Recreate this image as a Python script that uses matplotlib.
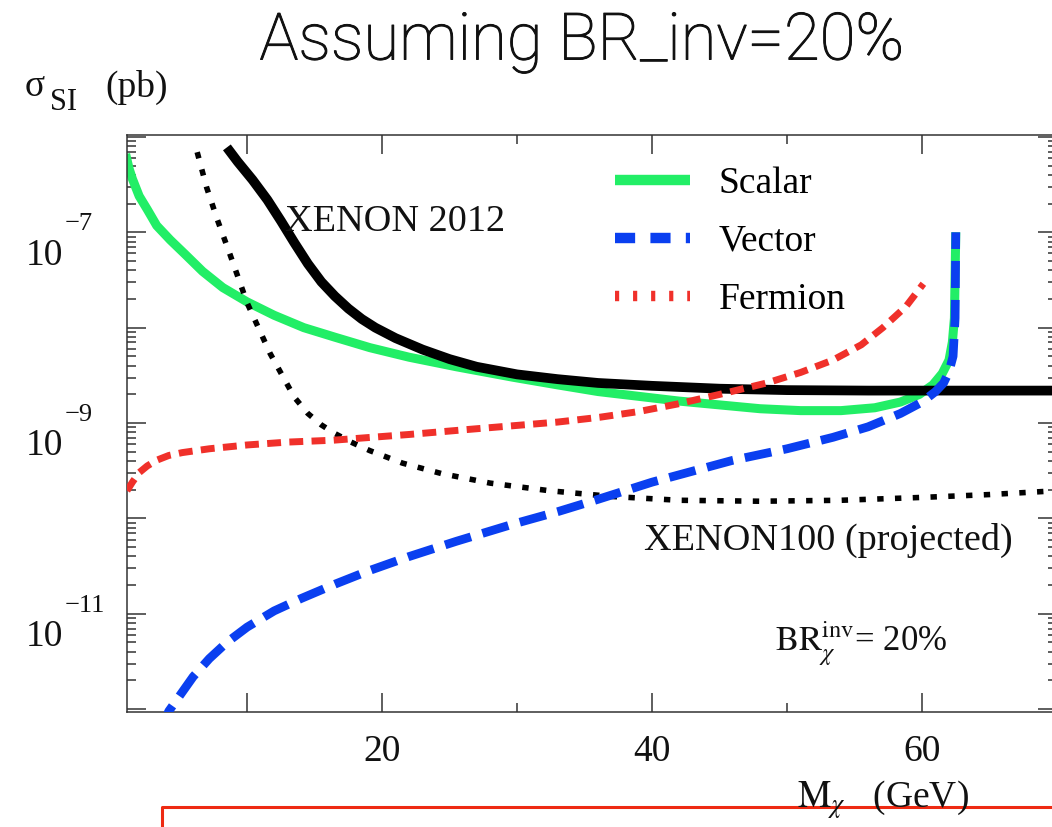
"""
plot.py

Spin-independent DM-nucleon cross section versus DM mass, Higgs portal
predictions for BR_inv = 20% against XENON limits.
"""

import matplotlib
matplotlib.use("Agg")
import matplotlib.pyplot as plt
from matplotlib.lines import Line2D
from matplotlib import ticker, transforms, patheffects
import numpy as np

# ---- data (log10 of sigma in pb) ----
scalar_m = [1.0, 1.25, 1.5, 2.0, 2.6, 3.3, 4.3, 5.4, 6.7, 8.2, 10.0, 12.0,
            14.2, 16.5, 19.1, 22.0, 25.5, 29.7, 33.0, 36.0, 39.0, 42.0,
            45.0, 48.0, 51.0, 54.0, 56.5, 58.4, 59.8, 60.8, 61.5, 62.0,
            62.25, 62.4, 62.5]
scalar_log = [-6.18, -6.33, -6.44, -6.62, -6.76, -6.93, -7.08, -7.23, -7.41,
              -7.58, -7.73, -7.87, -8.00, -8.10, -8.21, -8.31, -8.41, -8.52,
              -8.60, -8.67, -8.72, -8.77, -8.81, -8.85, -8.87, -8.87, -8.84,
              -8.78, -8.70, -8.60, -8.48, -8.34, -8.15, -7.90, -7.00]

vector_m = [3.6, 4.2, 5.0, 6.0, 7.2, 8.5, 10.0, 12.0, 14.0, 16.5, 19.0,
            22.0, 25.5, 29.7, 33.0, 36.0, 40.0, 46.0, 50.0, 53.4, 56.0,
            58.4, 60.0, 61.0, 61.6, 62.0, 62.3, 62.45, 62.5]
vector_log = [-12.22, -12.02, -11.86, -11.66, -11.47, -11.30, -11.14, -10.97,
              -10.84, -10.69, -10.55, -10.40, -10.24, -10.06, -9.93, -9.80,
              -9.62, -9.39, -9.27, -9.15, -9.04, -8.90, -8.78, -8.67, -8.58,
              -8.46, -8.30, -7.90, -7.00]

fermion_m = [1.1, 1.5, 2.0, 2.6, 3.3, 4.2, 5.2, 7.2, 10.0, 13.0, 16.4, 22.0,
             27.0, 33.0, 36.1, 39.0, 41.9, 45.0, 48.5, 51.0, 53.4, 55.5,
             57.1, 58.8, 60.1]
fermion_log = [-9.71, -9.62, -9.52, -9.45, -9.39, -9.34, -9.31, -9.27, -9.23,
               -9.20, -9.18, -9.12, -9.06, -8.99, -8.94, -8.88, -8.80, -8.70,
               -8.58, -8.47, -8.34, -8.18, -8.00, -7.78, -7.54]

xenon2012_m = [8.5, 9.3, 10.4, 11.5, 12.5, 13.5, 14.5, 15.5, 16.5, 17.5,
               18.5, 19.5, 21.0, 23.0, 25.0, 27.0, 30.0, 33.0, 36.0, 40.0,
               45.0, 50.0, 56.0, 70.0]
xenon2012_log = [-6.11, -6.26, -6.45, -6.66, -6.88, -7.11, -7.33, -7.52,
                 -7.67, -7.80, -7.91, -8.00, -8.11, -8.23, -8.33, -8.41,
                 -8.49, -8.54, -8.58, -8.61, -8.64, -8.655, -8.66, -8.66]

xenon100_m = [6.3, 7.0, 7.8, 8.7, 10.0, 11.7, 13.5, 14.5, 15.5, 16.5, 17.7,
              19.1, 21.5, 24.4, 28.0, 32.4, 37.0, 42.0, 48.0, 54.0, 60.0,
              65.0, 70.0]
xenon100_log = [-6.16, -6.53, -6.87, -7.22, -7.74, -8.27, -8.73, -8.90, -9.02,
                -9.11, -9.20, -9.29, -9.42, -9.53, -9.63, -9.71, -9.77, -9.81,
                -9.82, -9.81, -9.78, -9.75, -9.71]

y_exponents = [-12, -11, -10, -9, -8, -7, -6]
y_labelled = [-11, -9, -7]
x_major = [10, 20, 40, 60]
x_labels = ["", "20", "40", "60"]
x_minor = [30, 50, 70]

plt.rcParams["font.family"] = ["Liberation Serif", "DejaVu Serif"]
plt.rcParams["mathtext.fontset"] = "stix"
plt.rcParams["lines.scale_dashes"] = False
plt.rcParams["lines.solid_joinstyle"] = "round"
plt.rcParams["lines.dash_joinstyle"] = "round"

INK = "#111111"
GREEN = "#22ee66"
BLUE = "#0a3ff0"
RED = "#f0302a"


def sig(logs):
    return 10.0 ** np.asarray(logs)


fig = plt.figure(figsize=(10.52, 8.27), dpi=100)
ax = fig.add_axes([127 / 1052, 1 - 712 / 827, 930 / 1052, 577 / 827])

ax.plot(scalar_m, sig(scalar_log), color=GREEN, lw=6.5,
        solid_capstyle="butt", zorder=2)
ax.plot(xenon2012_m, sig(xenon2012_log), color="black", lw=7,
        solid_capstyle="butt", zorder=3)
ax.plot(xenon100_m, sig(xenon100_log), color="black", lw=4.0,
        dashes=(4.6, 8.2), zorder=3)
ax.plot(vector_m, sig(vector_log), color=BLUE, lw=6.3,
        dashes=(19.5, 8.6), zorder=4)
ax.plot(fermion_m, sig(fermion_log), color=RED, lw=5,
        dashes=(10, 6), zorder=5)

ax.set_yscale("log")
ax.set_xlim(1.1, 70)
ax.set_ylim(10 ** -12.03, 10 ** -5.98)

ax.xaxis.set_major_locator(ticker.FixedLocator(x_major))
ax.xaxis.set_major_formatter(ticker.FixedFormatter(x_labels))
ax.xaxis.set_minor_locator(ticker.FixedLocator(x_minor))

ax.yaxis.set_major_locator(ticker.FixedLocator(sig(y_exponents)))
ax.yaxis.set_major_formatter(ticker.FixedFormatter(
    ["10" if e in y_labelled else "" for e in y_exponents]))
ax.yaxis.set_minor_locator(ticker.LogLocator(base=10, subs=np.arange(2, 10)))
ax.yaxis.set_minor_formatter(ticker.NullFormatter())

ax.tick_params(which="both", direction="in", top=True, right=True,
               color="#333333", width=1.1, labelcolor=INK)
ax.tick_params(which="major", length=13.7)
ax.tick_params(which="minor", length=6.5)
ax.tick_params(axis="x", labelsize=27, pad=16)
ax.tick_params(axis="y", labelsize=27, pad=73)
shift = transforms.ScaledTranslation(0, -0.19, fig.dpi_scale_trans)
for lab in ax.get_yticklabels():
    lab.set_horizontalalignment("left")
    lab.set_transform(lab.get_transform() + shift)
for side in ax.spines.values():
    side.set_color("#333333")
    side.set_linewidth(1.1)

# raised exponents of the y tick labels, ROOT style
for e in y_labelled:
    ax.annotate("\u2212%d" % -e, xy=(65 / 1052, 10.0 ** e),
                xycoords=("figure fraction", "data"), xytext=(0, 1.5),
                textcoords="offset points", fontsize=19, color=INK,
                ha="left", va="baseline", annotation_clip=False)

# legend
handles = [Line2D([], [], color=GREEN, lw=7.5, solid_capstyle="butt"),
           Line2D([], [], color=BLUE, lw=7.5, dashes=(14.5, 11)),
           Line2D([], [], color=RED, lw=7.5, dashes=(3, 10))]
ax.legend(handles, ["Scalar", "Vector", "Fermion"], loc="upper left",
          bbox_to_anchor=(0.525, 0.945), frameon=False, fontsize=27,
          handlelength=2.0, handletextpad=0.75, labelspacing=0.62,
          borderpad=0, borderaxespad=0)

# annotations
ax.text(0.170, 0.850, "XENON 2012", transform=ax.transAxes, fontsize=27.5,
        color=INK, va="center")
ax.text(0.556, 0.297, "XENON100 (projected)", transform=ax.transAxes,
        fontsize=27.5, color=INK, va="center")
ax.text(0.697, 0.118, r"$\mathrm{BR}_{\chi}^{\mathrm{inv}}$= 20%",
        transform=ax.transAxes, fontsize=25, color=INK, va="center")

# axis titles
fig.text(25 / 1052, 1 - 96 / 827, "σ", fontsize=27, color=INK,
         ha="left", va="baseline")
fig.text(50 / 1052, 1 - 110 / 827, "SI", fontsize=22, color=INK,
         ha="left", va="baseline")
fig.text(105 / 1052, 1 - 97 / 827, "(pb)", fontsize=27, color=INK,
         ha="left", va="baseline")
fig.text(797 / 1052, 1 - 800 / 827, r"$\mathrm{M}_{\chi}$   (GeV)",
         fontsize=27, color=INK, va="center", ha="left")
title = fig.text(0.553, 1 - 42 / 827, "Assuming BR_inv=20%", fontsize=47,
                 family=["Roboto", "DejaVu Sans"], fontweight="light",
                 color="#111111", ha="center", va="center")
title.set_path_effects([patheffects.withStroke(linewidth=0.7,
                                               foreground="#111111")])

# red frame edge from the slide
fig.add_artist(Line2D([1.0, 162 / 1052, 162 / 1052],
                      [1 - 807 / 827, 1 - 807 / 827, 0.0],
                      transform=fig.transFigure, color="#ee2a12", lw=2.2))

fig.savefig("out.png", dpi=100)
